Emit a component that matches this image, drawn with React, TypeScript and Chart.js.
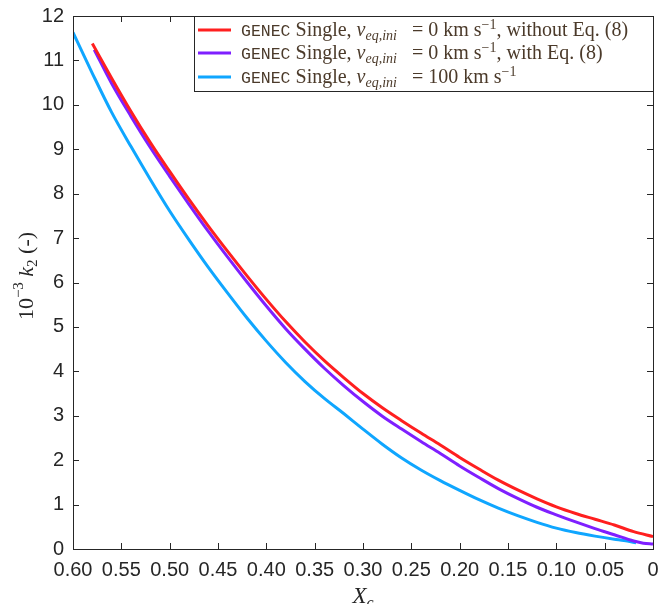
import React, { useEffect, useRef } from "react";
import { Chart, registerables } from "chart.js";

Chart.register(...registerables);

// ---------- data ----------
const redX = [0.58, 0.56, 0.54, 0.52, 0.5, 0.48, 0.46, 0.44, 0.42, 0.4, 0.38, 0.36, 0.34, 0.32, 0.3, 0.28, 0.26, 0.24, 0.22, 0.2, 0.18, 0.16, 0.14, 0.12, 0.1, 0.08, 0.06, 0.04, 0.02, 0.0];
const redY = [11.38, 10.6, 9.85, 9.15, 8.5, 7.87, 7.27, 6.7, 6.15, 5.62, 5.12, 4.66, 4.24, 3.86, 3.5, 3.18, 2.89, 2.61, 2.34, 2.06, 1.8, 1.55, 1.33, 1.13, 0.95, 0.8, 0.67, 0.54, 0.39, 0.28];

const purpleX = [0.578, 0.56, 0.54, 0.52, 0.5, 0.48, 0.46, 0.44, 0.42, 0.4, 0.38, 0.36, 0.34, 0.32, 0.3, 0.28, 0.26, 0.24, 0.22, 0.2, 0.18, 0.16, 0.14, 0.12, 0.1, 0.08, 0.06, 0.04, 0.02, 0.01, 0.0];
const purpleY = [11.24, 10.48, 9.74, 9.04, 8.39, 7.76, 7.15, 6.57, 6.01, 5.47, 4.96, 4.5, 4.07, 3.68, 3.32, 2.99, 2.7, 2.42, 2.15, 1.87, 1.61, 1.36, 1.14, 0.94, 0.77, 0.61, 0.46, 0.32, 0.18, 0.13, 0.11];

const blueX = [0.6, 0.58, 0.56, 0.54, 0.52, 0.5, 0.48, 0.46, 0.44, 0.42, 0.4, 0.38, 0.36, 0.34, 0.32, 0.3, 0.28, 0.26, 0.24, 0.22, 0.2, 0.18, 0.16, 0.14, 0.12, 0.1, 0.08, 0.06, 0.04, 0.03, 0.0175];
const blueY = [11.63, 10.71, 9.83, 9.06, 8.32, 7.61, 6.96, 6.34, 5.76, 5.2, 4.68, 4.2, 3.77, 3.39, 3.05, 2.7, 2.36, 2.05, 1.78, 1.54, 1.32, 1.11, 0.92, 0.75, 0.6, 0.47, 0.37, 0.29, 0.22, 0.19, 0.14];

const xTicks = [0.6, 0.55, 0.5, 0.45, 0.4, 0.35, 0.3, 0.25, 0.2, 0.15, 0.1, 0.05, 0];
const yTicks = [0, 1, 2, 3, 4, 5, 6, 7, 8, 9, 10, 11, 12];

const seriesColors = ["#FF1F1F", "#7F1FFF", "#0FA6FF"];

const AXIS_COLOR = "#262626";
const LEGEND_TEXT = "#4b3a2a";
const SERIF = '"Liberation Serif", "DejaVu Serif", serif';
const MONO = '"Liberation Mono", "DejaVu Sans Mono", monospace';
const SANS = '"Liberation Sans", Arial, sans-serif';

type Seg = { t: string; font: string; dy?: number };

function drawSegs(ctx: CanvasRenderingContext2D, segs: Seg[], x: number, y: number) {
  let cx = x;
  for (const s of segs) {
    ctx.font = s.font;
    ctx.fillText(s.t, cx, y + (s.dy || 0));
    cx += ctx.measureText(s.t).width;
  }
  return cx - x;
}
function segsWidth(ctx: CanvasRenderingContext2D, segs: Seg[]) {
  let w = 0;
  for (const s of segs) {
    ctx.font = s.font;
    w += ctx.measureText(s.t).width;
  }
  return w;
}

const legendRows = (fs: number): Seg[][] => {
  const main = `${fs}px ${SERIF}`;
  const ital = `italic ${fs}px ${SERIF}`;
  const small = `italic ${Math.round(fs * 0.7)}px ${SERIF}`;
  const sup = `${Math.round(fs * 0.7)}px ${SERIF}`;
  const mono = `16.5px ${MONO}`;
  const base = (rest: Seg[]): Seg[] => [
    { t: "GENEC", font: mono },
    { t: " Single, ", font: main },
    { t: "v", font: ital },
    { t: "eq,ini", font: small, dy: 4 },
    { t: "   = ", font: main },
    ...rest,
  ];
  return [
    base([
      { t: "0 km s", font: main },
      { t: "−1", font: sup, dy: -7 },
      { t: ", without Eq. (8)", font: main },
    ]),
    base([
      { t: "0 km s", font: main },
      { t: "−1", font: sup, dy: -7 },
      { t: ", with Eq. (8)", font: main },
    ]),
    base([
      { t: "100 km s", font: main },
      { t: "−1", font: sup, dy: -7 },
    ]),
  ];
};

const decorPlugin = {
  id: "decor",
  afterDatasetsDraw(chart: any) {
    const { ctx, chartArea: a, scales } = chart;
    const xs = scales.x;
    const ys = scales.y;
    ctx.save();
    // box
    ctx.strokeStyle = AXIS_COLOR;
    ctx.lineWidth = 1;
    ctx.strokeRect(Math.round(a.left) + 0.5, Math.round(a.top) + 0.5, Math.round(a.right - a.left), Math.round(a.bottom - a.top));
    const tl = 6;
    ctx.beginPath();
    for (const v of xTicks) {
      const px = Math.round(xs.getPixelForValue(v)) + 0.5;
      ctx.moveTo(px, a.bottom);
      ctx.lineTo(px, a.bottom - tl);
      ctx.moveTo(px, a.top);
      ctx.lineTo(px, a.top + tl);
    }
    for (const v of yTicks) {
      const py = Math.round(ys.getPixelForValue(v)) + 0.5;
      ctx.moveTo(a.left, py);
      ctx.lineTo(a.left + tl, py);
      ctx.moveTo(a.right, py);
      ctx.lineTo(a.right - tl, py);
    }
    ctx.stroke();

    // legend
    const lx = 194, ly = Math.round(a.top), lw = 459, lh = 75;
    ctx.fillStyle = "#ffffff";
    ctx.fillRect(lx, ly, lw, lh);
    ctx.strokeStyle = AXIS_COLOR;
    ctx.strokeRect(lx + 0.5, ly + 0.5, lw, lh);
    let fs = 18;
    let rows = legendRows(fs);
    const target = 404;
    const w0 = segsWidth(ctx, rows[0]);
    fs = Math.max(14, Math.min(20, fs * target / w0));
    rows = legendRows(fs);
    const rowY = [ly + 14, ly + 37, ly + 61];
    ctx.textBaseline = "alphabetic";
    rows.forEach((segs, i) => {
      ctx.strokeStyle = seriesColors[i];
      ctx.lineWidth = 3;
      ctx.beginPath();
      ctx.moveTo(198, rowY[i]);
      ctx.lineTo(231, rowY[i]);
      ctx.stroke();
      ctx.fillStyle = LEGEND_TEXT;
      drawSegs(ctx, segs, 241, rowY[i] + 6);
    });

    // y title
    ctx.fillStyle = AXIS_COLOR;
    const ySegs: Seg[] = [
      { t: "10", font: `22px ${SERIF}` },
      { t: "−3", font: `15px ${SERIF}`, dy: -10 },
      { t: " ", font: `22px ${SERIF}` },
      { t: "k", font: `italic 22px ${SERIF}` },
      { t: "2", font: `15px ${SERIF}`, dy: 4 },
      { t: " (-)", font: `22px ${SERIF}` },
    ];
    const yw = segsWidth(ctx, ySegs);
    ctx.save();
    ctx.translate(33, 276);
    ctx.rotate(-Math.PI / 2);
    drawSegs(ctx, ySegs, -yw / 2, 0);
    ctx.restore();

    // x title
    const xSegs: Seg[] = [
      { t: "X", font: `italic 23px ${SERIF}` },
      { t: "c", font: `italic 16px ${SERIF}`, dy: 5 },
    ];
    const xw = segsWidth(ctx, xSegs);
    drawSegs(ctx, xSegs, (a.left + a.right) / 2 - xw / 2, 603);
    ctx.restore();
  },
};

function mk(xs: number[], ys: number[]) {
  return xs.map((x, i) => ({ x, y: ys[i] }));
}

export default function App() {
  const ref = useRef<HTMLCanvasElement | null>(null);
  useEffect(() => {
    if (!ref.current) return;
    const common = { borderWidth: 3, pointRadius: 0, cubicInterpolationMode: "monotone" as const, fill: false };
    const chart = new Chart(ref.current, {
      type: "line",
      data: {
        datasets: [
          { label: "red", data: mk(redX, redY), borderColor: seriesColors[0], ...common },
          { label: "purple", data: mk(purpleX, purpleY), borderColor: seriesColors[1], ...common },
          { label: "blue", data: mk(blueX, blueY), borderColor: seriesColors[2], ...common },
        ],
      },
      options: {
        animation: false,
        responsive: false,
        devicePixelRatio: 1,
        layout: { padding: { left: 0, top: 16, right: 16, bottom: 0 } },
        plugins: { legend: { display: false }, tooltip: { enabled: false } },
        scales: {
          x: {
            type: "linear",
            reverse: true,
            min: 0,
            max: 0.6,
            afterFit: (s: any) => { s.height = 55; s.paddingLeft = 0; s.paddingRight = 0; },
            afterBuildTicks: (s: any) => { s.ticks = xTicks.map((v) => ({ value: v })); },
            grid: { display: false, drawTicks: false },
            border: { display: false },
            ticks: {
              autoSkip: false,
              maxRotation: 0,
              padding: 9,
              color: AXIS_COLOR,
              font: { family: SANS, size: 20 },
              callback: (v: any) => (Number(v) === 0 ? "0" : Number(v).toFixed(2)),
            },
          },
          y: {
            type: "linear",
            min: 0,
            max: 12,
            afterFit: (s: any) => { s.width = 73; s.paddingTop = 0; s.paddingBottom = 0; },
            afterBuildTicks: (s: any) => { s.ticks = yTicks.map((v) => ({ value: v })); },
            grid: { display: false, drawTicks: false },
            border: { display: false },
            ticks: {
              padding: 9,
              color: AXIS_COLOR,
              font: { family: SANS, size: 20 },
              callback: (v: any) => String(v),
            },
          },
        },
      },
      plugins: [decorPlugin],
    });
    return () => chart.destroy();
  }, []);
  return (
    <div style={{ position: "fixed", left: 0, top: 0, width: 669, height: 604, background: "#fff" }}>
      <canvas ref={ref} width={669} height={604} style={{ display: "block" }} />
    </div>
  );
}
